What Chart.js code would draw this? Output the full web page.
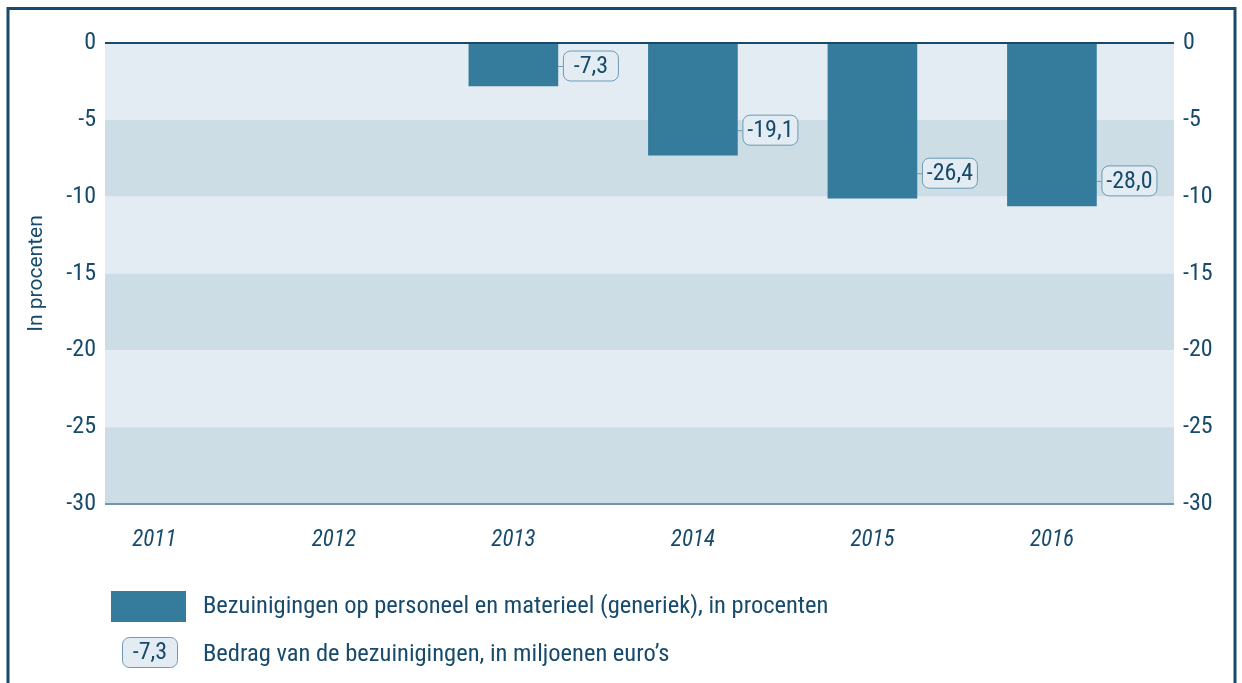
<!DOCTYPE html>
<html>
<head>
<meta charset="utf-8">
<script src="https://cdn.jsdelivr.net/npm/chart.js@4"></script>
<style>
  html, body { margin: 0; padding: 0; background: #fff; }
  canvas { display: block; }
</style>
</head>
<body>
<canvas id="chart" width="1242" height="683"></canvas>
<script>
// Jaren op de x-as
const years = ["2011", "2012", "2013", "2014", "2015", "2016"];
// Bezuinigingen op personeel en materieel (generiek), in procenten
const cutsPercent = [null, null, -2.8, -7.3, -10.1, -10.6];
// Bedrag van de bezuinigingen, in miljoenen euro's
const cutsAmount = [null, null, -7.3, -19.1, -26.4, -28.0];
// Ticks op beide y-assen
const yTicks = [0, -5, -10, -15, -20, -25, -30];

const seriesLabel = "Bezuinigingen op personeel en materieel (generiek), in procenten";
const amountLabel = "Bedrag van de bezuinigingen, in miljoenen euro’s";
const amountSample = "-7,3";

const FONT = '"Roboto Condensed", Roboto, sans-serif';
const DARK = "#174a6b";
const BAR = "#357b9b";
const BAND_LIGHT = "#e3ecf2";
const BAND_DARK = "#ccdde5";
const BOX_LINE = "#6a9bb6";

function fmt(v) {
  return v.toFixed(1).replace(".", ",");
}

function roundBox(ctx, x, y, w, h, r) {
  ctx.beginPath();
  ctx.roundRect(x, y, w, h, r);
  ctx.fillStyle = BAND_LIGHT;
  ctx.fill();
  ctx.lineWidth = 1;
  ctx.strokeStyle = BOX_LINE;
  ctx.stroke();
}

// banden achter de staven, lijnen bij 0 en -30
const bandsPlugin = {
  id: "bands",
  beforeDatasetsDraw(chart) {
    const { ctx, chartArea } = chart;
    const y = chart.scales.y;
    ctx.save();
    for (let i = 0; i < yTicks.length - 1; i++) {
      const y0 = y.getPixelForValue(yTicks[i]);
      const y1 = y.getPixelForValue(yTicks[i + 1]);
      ctx.fillStyle = i % 2 === 0 ? BAND_LIGHT : BAND_DARK;
      ctx.fillRect(chartArea.left, y0, chartArea.right - chartArea.left, y1 - y0);
    }
    const yb = y.getPixelForValue(yTicks[yTicks.length - 1]);
    ctx.strokeStyle = "#7096ab";
    ctx.lineWidth = 2;
    ctx.beginPath();
    ctx.moveTo(chartArea.left, yb);
    ctx.lineTo(chartArea.right, yb);
    ctx.stroke();
    ctx.restore();
  },
  afterDatasetsDraw(chart) {
    const { ctx, chartArea } = chart;
    const y = chart.scales.y;
    const y0 = y.getPixelForValue(0);
    ctx.save();
    ctx.strokeStyle = DARK;
    ctx.lineWidth = 2;
    ctx.beginPath();
    ctx.moveTo(chartArea.left, y0);
    ctx.lineTo(chartArea.right, y0);
    ctx.stroke();

    // bedragen in een kadertje rechts van elke staaf
    const meta = chart.getDatasetMeta(0);
    ctx.font = "24px " + FONT;
    ctx.textAlign = "center";
    ctx.textBaseline = "middle";
    meta.data.forEach((bar, i) => {
      if (cutsPercent[i] == null || cutsAmount[i] == null) return;
      const right = bar.x + bar.width / 2;
      const cy = Math.max(bar.y - 25, y0 + 23);
      const bx = right + 5;
      ctx.strokeStyle = BOX_LINE;
      ctx.lineWidth = 1;
      ctx.beginPath();
      ctx.moveTo(right, cy + 0.5);
      ctx.lineTo(bx, cy + 0.5);
      ctx.stroke();
      roundBox(ctx, bx + 0.5, cy - 15, 55, 30, 7);
      ctx.fillStyle = DARK;
      ctx.fillText(fmt(cutsAmount[i]), bx + 28, cy + 1);
    });
    ctx.restore();
  },
  afterDraw(chart) {
    const { ctx } = chart;
    ctx.save();
    // legenda
    ctx.fillStyle = BAR;
    ctx.fillRect(111, 591, 75, 31);
    ctx.font = "24.5px " + FONT;
    ctx.textAlign = "left";
    ctx.textBaseline = "middle";
    ctx.fillStyle = DARK;
    ctx.fillText(chart.data.datasets[0].label, 203, 607);
    roundBox(ctx, 122.5, 637.5, 55, 30, 7);
    ctx.fillStyle = DARK;
    ctx.textAlign = "center";
    ctx.font = "24px " + FONT;
    ctx.fillText(amountSample, 150, 653);
    ctx.textAlign = "left";
    ctx.font = "24.5px " + FONT;
    ctx.fillText(amountLabel, 203, 655);
    // kader rond de figuur
    ctx.strokeStyle = DARK;
    ctx.lineWidth = 3;
    ctx.strokeRect(8, 8.5, 1227, 720);
    ctx.restore();
  }
};

const yTickSetup = (scale) => {
  scale.ticks = yTicks.map((v) => ({ value: v }));
};

new Chart(document.getElementById("chart"), {
  type: "bar",
  data: {
    datasets: [
      {
        label: seriesLabel,
        data: cutsPercent.map((v, i) => ({ x: i, y: v })),
        backgroundColor: BAR,
        borderWidth: 0,
        barThickness: 89,
        yAxisID: "y"
      }
    ]
  },
  options: {
    responsive: false,
    animation: false,
    devicePixelRatio: 1,
    layout: { padding: { top: 43, left: 0, right: 0, bottom: 0 } },
    plugins: {
      legend: { display: false },
      tooltip: { enabled: false }
    },
    scales: {
      x: {
        type: "linear",
        offset: false,
        min: -0.275,
        max: 5.68,
        afterBuildTicks: (scale) => {
          scale.ticks = years.map((_, i) => ({ value: i }));
        },
        afterFit: (scale) => { scale.height = 179; },
        grid: { display: false, drawTicks: false, offset: false },
        border: { display: false },
        ticks: {
          autoSkip: false,
          maxRotation: 0,
          padding: 22,
          color: DARK,
          font: { family: FONT, size: 23, style: "italic" },
          callback: (v) => years[v]
        }
      },
      y: {
        type: "linear",
        position: "left",
        min: -30,
        max: 0,
        afterBuildTicks: yTickSetup,
        afterFit: (scale) => { scale.width = 105; },
        grid: { display: false, drawTicks: false },
        border: { display: false },
        title: {
          display: true,
          text: "In procenten",
          color: DARK,
          font: { family: "Roboto, sans-serif", size: 21 },
          padding: { top: 24, bottom: 0 }
        },
        ticks: {
          padding: 9,
          color: DARK,
          font: { family: FONT, size: 24 },
          callback: (v) => String(v)
        }
      },
      y2: {
        type: "linear",
        position: "right",
        min: -30,
        max: 0,
        afterBuildTicks: yTickSetup,
        afterFit: (scale) => { scale.width = 68; },
        grid: { display: false, drawTicks: false },
        border: { display: false },
        ticks: {
          padding: 9,
          color: DARK,
          font: { family: FONT, size: 24 },
          callback: (v) => String(v)
        }
      }
    }
  },
  plugins: [bandsPlugin]
});
</script>
</body>
</html>
